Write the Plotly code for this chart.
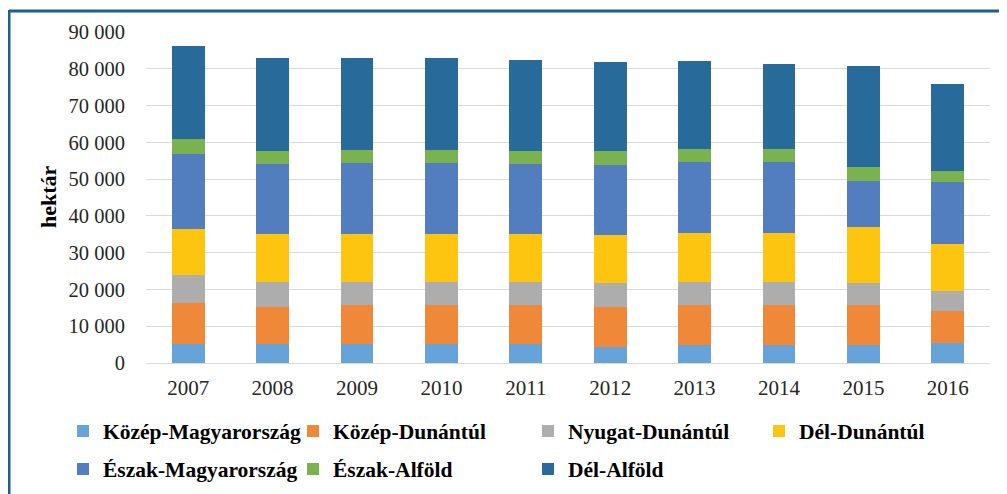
import plotly.graph_objects as go

# DATA (hektár)
years = ["2007", "2008", "2009", "2010", "2011", "2012", "2013", "2014", "2015", "2016"]
kozep_magyarorszag = [5300, 5300, 5300, 5300, 5300, 4400, 4900, 4900, 4900, 5500]
kozep_dunantul = [10900, 10000, 10400, 10400, 10400, 10900, 10800, 10800, 10800, 8700]
nyugat_dunantul = [7600, 6800, 6400, 6400, 6400, 6500, 6400, 6400, 6100, 5400]
del_dunantul = [12700, 13000, 13000, 13000, 13000, 13000, 13300, 13300, 15300, 12700]
eszak_magyarorszag = [20400, 18900, 19200, 19200, 18900, 19100, 19200, 19200, 12500, 16900]
eszak_alfold = [3900, 3700, 3600, 3600, 3700, 3700, 3600, 3600, 3600, 3000]
del_alfold = [25300, 25100, 25100, 25100, 24800, 24200, 23900, 23100, 27500, 23700]

series = [
    ("Közép-Magyarország", kozep_magyarorszag, "#66A3D8"),
    ("Közép-Dunántúl", kozep_dunantul, "#F0883A"),
    ("Nyugat-Dunántúl", nyugat_dunantul, "#ADADAD"),
    ("Dél-Dunántúl", del_dunantul, "#FDC50F"),
    ("Észak-Magyarország", eszak_magyarorszag, "#527DBF"),
    ("Észak-Alföld", eszak_alfold, "#7AB24F"),
    ("Dél-Alföld", del_alfold, "#286B9A"),
]

# LAYOUT GEOMETRY (pixels, figure coords; page body adds an 8px margin)
W, H = 999, 486
left, right, top, bottom = 138, 982, 24, 355
pw, ph = right - left, bottom - top

# legend entry text positions (left x, middle y), one legend per entry
legend_pos = [(96, 423), (326, 423), (561, 423), (792, 423),
              (96, 461), (326, 461), (561, 461)]

fig = go.Figure()
for i, (name, vals, color) in enumerate(series):
    leg = "legend" if i == 0 else "legend%d" % (i + 1)
    fig.add_trace(go.Bar(x=years, y=vals, name=name, legend=leg,
                         marker=dict(color=color, line=dict(width=0))))

serif = "Liberation Serif"

def px_x(x):
    return (x - left) / pw

def px_y(y):
    return (bottom - y) / ph

# frame lines (left and top) of the box around the chart
frame = "#1F5F8F"
fig.add_shape(type="line", xref="paper", yref="paper",
              x0=px_x(1), x1=px_x(1), y0=px_y(2), y1=px_y(H + 5),
              line=dict(color=frame, width=3))
fig.add_shape(type="line", xref="paper", yref="paper",
              x0=px_x(1), x1=px_x(W + 5), y0=px_y(3), y1=px_y(3),
              line=dict(color=frame, width=3))

# y axis title
fig.add_annotation(text="<b>hektár</b>", textangle=-90, showarrow=False,
                   xref="paper", yref="paper", x=px_x(40), y=px_y(189),
                   xanchor="center", yanchor="middle",
                   font=dict(family=serif, size=22, color="#000000"))

legends = {}
for i, (lx, ly) in enumerate(legend_pos):
    key = "legend" if i == 0 else "legend%d" % (i + 1)
    legends[key] = dict(orientation="h", xref="container", yref="container",
                        x=(lx - 41) / W, y=1 - ly / H,
                        xanchor="left", yanchor="middle",
                        font=dict(family=serif, size=21.5, color="#000000", weight="bold"),
                        bgcolor="rgba(0,0,0,0)")

fig.update_layout(
    width=W, height=H,
    margin=dict(l=left, r=W - right, t=top, b=H - bottom, autoexpand=False),
    barmode="stack", bargap=0.61,
    plot_bgcolor="white", paper_bgcolor="white",
    separators=", ",
    font=dict(family=serif, size=20, color="#262626"),
    xaxis=dict(showgrid=False, showline=True, linecolor="#D9D9D9", linewidth=1,
               automargin=False,
               ticks="outside", ticklen=6, tickcolor="rgba(0,0,0,0)",
               tickfont=dict(family=serif, size=21, color="#262626")),
    yaxis=dict(range=[0, 90000], dtick=10000, tickformat=",d",
               automargin=False,
               showgrid=True, gridcolor="#D9D9D9", gridwidth=1, zeroline=False,
               ticks="outside", ticklen=16, tickcolor="rgba(0,0,0,0)",
               tickfont=dict(family=serif, size=20.5, color="#262626")),
    showlegend=True,
    **legends,
)

fig.write_html("out.html")
